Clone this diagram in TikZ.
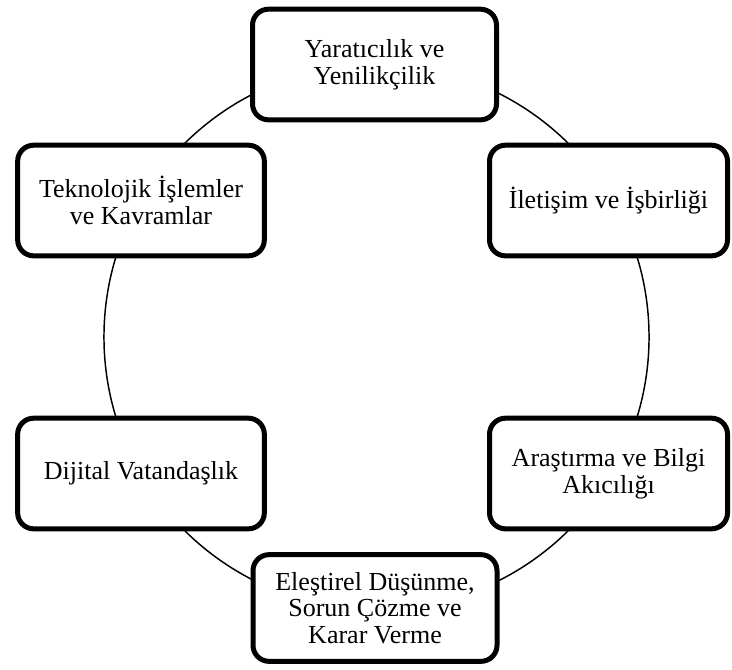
\documentclass[tikz,border=0pt]{standalone}
\usepackage{fontspec}
\setmainfont{Liberation Serif}

\begin{document}
\begin{tikzpicture}[x=0.75pt, y=-0.75pt, skill/.style={draw, line width=3.75pt, rounded corners=12pt, fill=white, align=center, inner sep=2pt, minimum width=183pt, minimum height=83pt, font=\fontsize{19.5}{20}\selectfont}]
  \useasboundingbox (0,0) rectangle (732,669);
  \coordinate (0) at (376.5,337);
  \coordinate (1) at (374.5,64.5);
  \coordinate (2) at (608.5,200.5);
  \coordinate (3) at (608.5,473.5);
  \coordinate (4) at (375,608);
  \coordinate (5) at (141,473.5);
  \coordinate (6) at (141,200.5);
  \draw[line width=1.1pt] (0) circle [radius=204.4pt];
  \draw (1) node[skill] (yaraticilik) {Yaratıcılık ve\\Yenilikçilik};
  \draw (2) node[skill, minimum width=178.5pt] (iletisim) {İletişim ve İşbirliği};
  \draw (3) node[skill, minimum width=178.5pt] (arastirma) {Araştırma ve Bilgi\\Akıcılığı};
  \draw (4) node[skill, minimum height=80pt] (elestirel) {Eleştirel Düşünme,\\Sorun Çözme ve\\Karar Verme};
  \draw (5) node[skill, minimum width=185pt] (dijital) {Dijital Vatandaşlık};
  \draw (6) node[skill, minimum width=185pt] (teknoloji) {Teknolojik İşlemler\\ve Kavramlar};
\end{tikzpicture}
\end{document}
